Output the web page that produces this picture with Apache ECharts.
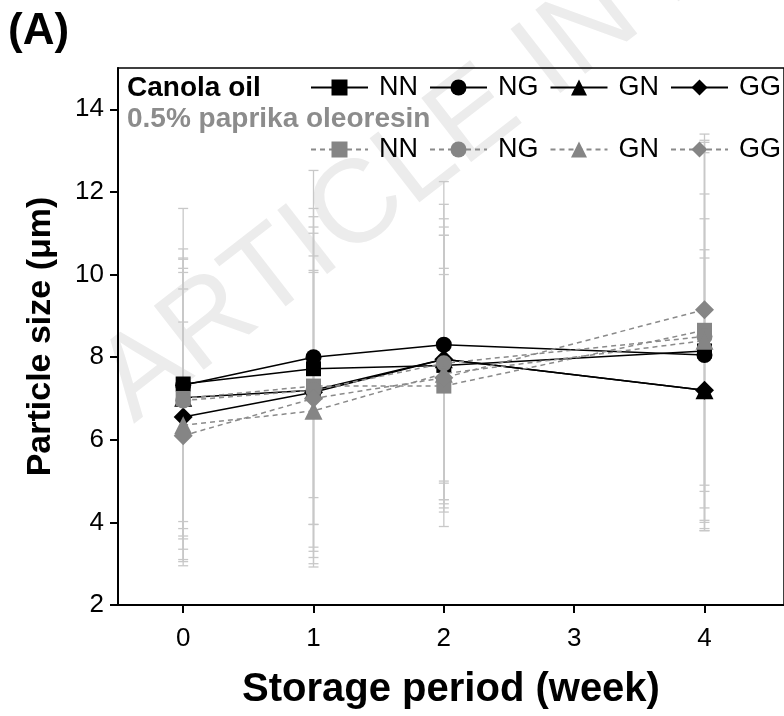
<!DOCTYPE html>
<html>
<head>
<meta charset="utf-8">
<script src="https://cdn.jsdelivr.net/npm/echarts@6/dist/echarts.min.js"></script>
<style>html,body{margin:0;padding:0;background:#fff;}#c{width:784px;height:716px;}</style>
</head>
<body>
<div id="c"></div>
<script>
const weeks = [0, 1, 2, 4];
const xTickValues = [0, 1, 2, 3, 4];
const yTickValues = [2, 4, 6, 8, 10, 12, 14];
const groups = ['NN', 'NG', 'GN', 'GG'];

// Canola oil (black, solid)
const canolaNN = [7.35, 7.72, 7.80, 8.15];
const canolaNG = [7.32, 8.00, 8.30, 8.05];
const canolaGN = [7.02, 7.20, 7.95, 7.20];
const canolaGG = [6.55, 7.15, 7.95, 7.20];
const canolaNNerr = [4.25, 4.80, 3.90, 3.80];
const canolaNGerr = [3.30, 3.40, 3.95, 3.30];
const canolaGNerr = [3.35, 3.80, 3.40, 3.40];
const canolaGGerr = [3.60, 4.00, 3.00, 3.20];

// 0.5% paprika oleoresin (gray, dashed)
const paprikaNN = [7.00, 7.30, 7.30, 8.65];
const paprikaNG = [6.95, 7.20, 7.85, 8.50];
const paprikaGN = [6.35, 6.70, 7.60, 8.40];
const paprikaGG = [6.10, 7.00, 7.50, 9.15];
const paprikaNNerr = [3.40, 4.30, 2.85, 4.60];
const paprikaNGerr = [3.10, 3.25, 3.30, 4.70];
const paprikaGNerr = [3.30, 3.40, 3.35, 4.55];
const paprikaGGerr = [2.75, 3.05, 2.50, 4.25];

const symbols = ['rect', 'circle', 'triangle', 'diamond'];
const symSizes = [15, 16, 18, 19];
const canolaVals = [canolaNN, canolaNG, canolaGN, canolaGG];
const canolaErrs = [canolaNNerr, canolaNGerr, canolaGNerr, canolaGGerr];
const paprikaVals = [paprikaNN, paprikaNG, paprikaGN, paprikaGG];
const paprikaErrs = [paprikaNNerr, paprikaNGerr, paprikaGNerr, paprikaGGerr];

const FONT = 'Liberation Sans, Arial, sans-serif';
const chart = echarts.init(document.getElementById('c'), null, {renderer: 'canvas'});

const errData = [];
[canolaVals, paprikaVals].forEach((set, si) => {
  const errs = si === 0 ? canolaErrs : paprikaErrs;
  set.forEach((vals, gi) => {
    vals.forEach((v, i) => {
      errData.push([weeks[i], v - errs[gi][i], v + errs[gi][i]]);
    });
  });
});

const series = [];
series.push({
  type: 'custom',
  name: 'err',
  z: 1,
  silent: true,
  data: errData,
  encode: {x: 0, y: [1, 2]},
  renderItem: function (params, api) {
    const x = api.value(0);
    const lo = api.coord([x, api.value(1)]);
    const hi = api.coord([x, api.value(2)]);
    const hw = 5;
    const st = {stroke: '#c8c8c8', lineWidth: 1.3};
    return {
      type: 'group',
      children: [
        {type: 'line', shape: {x1: lo[0], y1: lo[1], x2: hi[0], y2: hi[1]}, style: st},
        {type: 'line', shape: {x1: lo[0] - hw, y1: lo[1], x2: lo[0] + hw, y2: lo[1]}, style: st},
        {type: 'line', shape: {x1: hi[0] - hw, y1: hi[1], x2: hi[0] + hw, y2: hi[1]}, style: st}
      ]
    };
  }
});

groups.forEach((g, gi) => {
  series.push({
    type: 'line',
    name: g,
    z: 3,
    data: weeks.map((w, i) => [w, canolaVals[gi][i]]),
    symbol: symbols[gi],
    symbolSize: symSizes[gi],
    showAllSymbol: true,
    lineStyle: {color: '#000', width: 1.5, type: 'solid'},
    itemStyle: {color: '#000'},
    emphasis: {disabled: true},
    animation: false
  });
});
groups.forEach((g, gi) => {
  series.push({
    type: 'line',
    name: g + ' ',
    z: 4,
    data: weeks.map((w, i) => [w, paprikaVals[gi][i]]),
    symbol: symbols[gi],
    symbolSize: symSizes[gi],
    showAllSymbol: true,
    lineStyle: {color: '#8a8a8a', width: 1.5, type: [5, 4]},
    itemStyle: {color: '#858585'},
    emphasis: {disabled: true},
    animation: false
  });
});

const legendBase = {
  orient: 'horizontal',
  padding: 0,
  itemWidth: 57,
  itemHeight: 20,
  itemGap: 11,
  selectedMode: false,
  textStyle: {fontFamily: FONT, fontSize: 27, color: '#000', padding: [0, 0, 0, 6]},
  formatter: function (n) { return n.trim(); }
};

const option = {
  animation: false,
  backgroundColor: '#fff',
  grid: {left: 118, top: 68, width: 680, height: 537, show: true, borderColor: '#000', borderWidth: 1.5, backgroundColor: 'transparent'},
  xAxis: {
    type: 'value', min: -0.5, max: 4.61,
    axisLine: {show: true, onZero: false, lineStyle: {color: '#000', width: 2}},
    axisTick: {show: true, inside: false, length: 8, lineStyle: {color: '#000', width: 2}, customValues: xTickValues},
    axisLabel: {customValues: xTickValues, fontFamily: FONT, fontSize: 26, color: '#000', margin: 21},
    splitLine: {show: false},
    name: 'Storage period (week)', nameLocation: 'middle', nameGap: 65,
    nameTextStyle: {fontFamily: FONT, fontWeight: 'bold', fontSize: 40, color: '#000'}
  },
  yAxis: {
    type: 'value', min: 2, max: 15,
    axisLine: {show: true, onZero: false, lineStyle: {color: '#000', width: 2}},
    axisTick: {show: true, inside: false, length: 8, lineStyle: {color: '#000', width: 2}, customValues: yTickValues},
    axisLabel: {customValues: yTickValues, fontFamily: FONT, fontSize: 26, color: '#000', margin: 14},
    splitLine: {show: false},
    name: 'Particle size (μm)', nameLocation: 'middle', nameGap: 60, nameRotate: 90,
    nameTextStyle: {fontFamily: FONT, fontWeight: 'bold', fontSize: 34, color: '#000'}
  },
  legend: [
    Object.assign({}, legendBase, {data: groups, left: 310, top: 74}),
    Object.assign({}, legendBase, {data: groups.map(g => g + ' '), left: 310, top: 136})
  ],
  graphic: [
    {type: 'text', x: 150, y: 445, z: -100, silent: true, rotation: 0.66,
      style: {text: 'ARTICLE IN PRESS', font: '118px ' + FONT, fill: '#ececec', textAlign: 'left', textVerticalAlign: 'bottom'}},
    {type: 'text', left: 8, top: 10, style: {text: '(A)', font: 'bold 44px ' + FONT, fill: '#000'}},
    {type: 'text', x: 127, y: 88, style: {text: 'Canola oil', font: 'bold 28px ' + FONT, fill: '#000', textVerticalAlign: 'middle'}},
    {type: 'text', x: 127, y: 119, style: {text: '0.5% paprika oleoresin', font: 'bold 28px ' + FONT, fill: '#8c8c8c', textVerticalAlign: 'middle'}}
  ],
  series: series
};
chart.setOption(option);
</script>
</body>
</html>
